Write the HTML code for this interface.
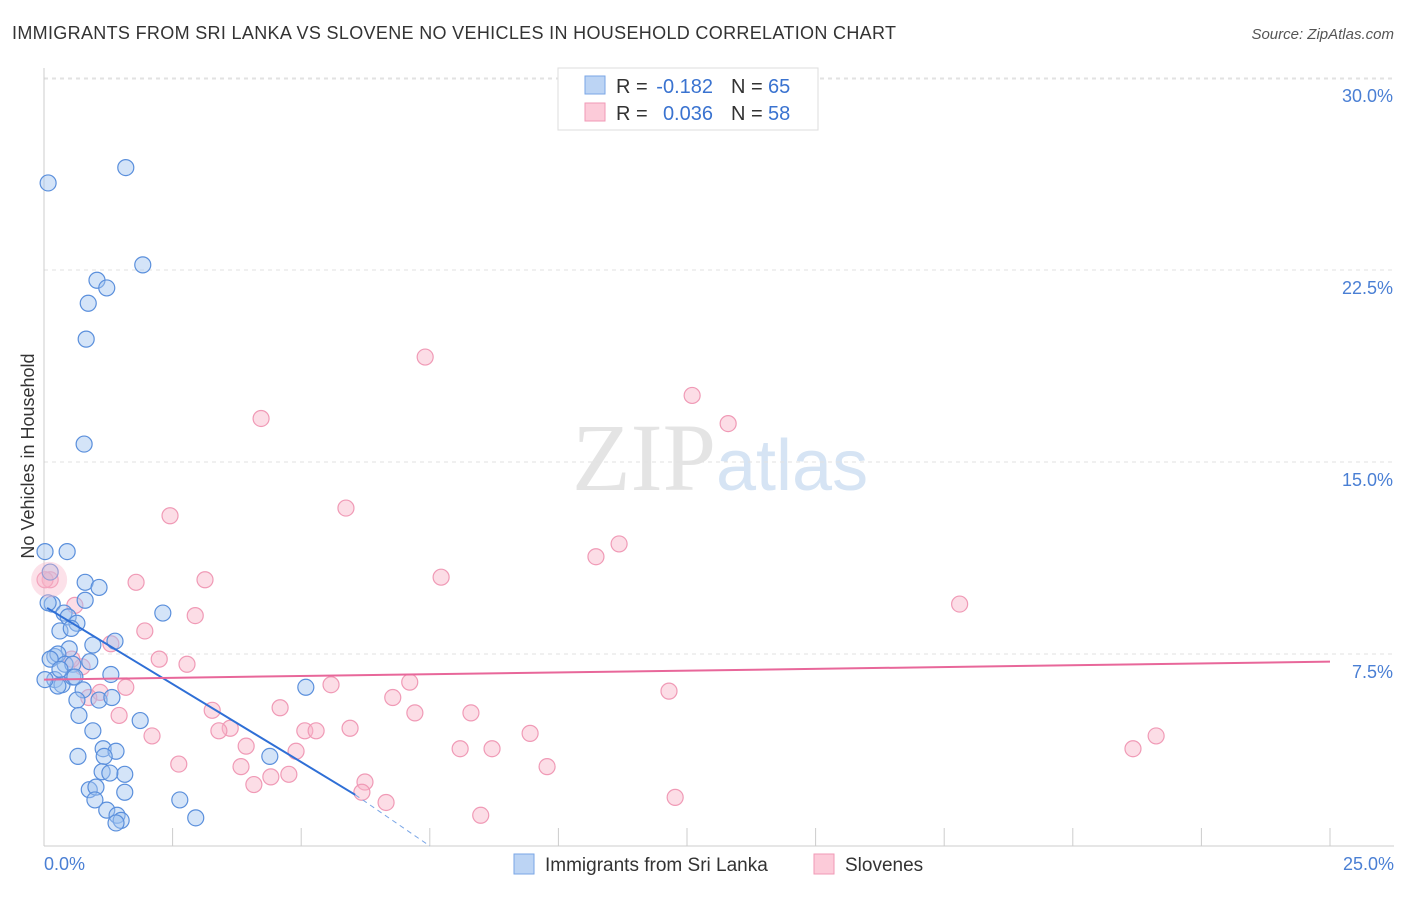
<!DOCTYPE html>
<html><head><meta charset="utf-8"><style>
body{margin:0;background:#fff;font-family:"Liberation Sans",sans-serif;}
</style></head><body>
<svg width="1406" height="892" xmlns="http://www.w3.org/2000/svg">
<text x="12" y="39" font-size="18" fill="#333" textLength="884">IMMIGRANTS FROM SRI LANKA VS SLOVENE NO VEHICLES IN HOUSEHOLD CORRELATION CHART</text>
<text x="1394" y="39" font-size="15" fill="#555" font-style="italic" text-anchor="end">Source: ZipAtlas.com</text>
<text x="716" y="490" font-size="96" fill="#e4e4e4" font-family="Liberation Serif,serif" text-anchor="end">ZIP</text>
<text x="716" y="490" font-size="72" fill="#d6e4f4">atlas</text>
<g id="grid"></g>
<line x1="44" y1="68" x2="44" y2="846" stroke="#ccc"/>
<line x1="44" y1="846" x2="1394" y2="846" stroke="#ccc"/>
<text x="0" y="0" transform="translate(34,456) rotate(-90)" font-size="18" fill="#333" text-anchor="middle">No Vehicles in Household</text>
<text x="44" y="870" font-size="18" fill="#4a7fd4">0.0%</text>
<text x="1394" y="870" font-size="18" fill="#4a7fd4" text-anchor="end">25.0%</text>
<g id="marks"></g>
<g>
<rect x="558" y="68" width="260" height="62" fill="#fff" stroke="#ddd"/>
<rect x="585" y="76" width="20" height="18" fill="#bcd4f4" stroke="#7aa6e6"/>
<rect x="585" y="103" width="20" height="18" fill="#fccbd9" stroke="#f09ab6"/>
<text x="616" y="93" font-size="20" fill="#333">R =</text>
<text x="713" y="93" font-size="20" fill="#3a73d0" text-anchor="end">-0.182</text>
<text x="731" y="93" font-size="20" fill="#333">N =</text>
<text x="768" y="93" font-size="20" fill="#3a73d0">65</text>
<text x="616" y="120" font-size="20" fill="#333">R =</text>
<text x="713" y="120" font-size="20" fill="#3a73d0" text-anchor="end">0.036</text>
<text x="731" y="120" font-size="20" fill="#333">N =</text>
<text x="768" y="120" font-size="20" fill="#3a73d0">58</text>
</g>
<g>
<rect x="514" y="854" width="20" height="20" fill="#bcd4f4" stroke="#7aa6e6"/>
<text x="545" y="871" font-size="19" fill="#333">Immigrants from Sri Lanka</text>
<rect x="814" y="854" width="20" height="20" fill="#fccbd9" stroke="#f09ab6"/>
<text x="845" y="871" font-size="19" fill="#333">Slovenes</text>
</g>
</svg>
<script>
const yTicks=[7.5,15,22.5,30];
const yTickLabels=["7.5%","15.0%","22.5%","30.0%"];
const xTicks=[0,2.5,5,7.5,10,12.5,15,17.5,20,22.5,25];
const blueX=[0.08,1.59,1.92,1.03,1.22,0.86,0.82,0.78,0.45,0.02,0.12,0.8,1.07,0.16,0.8,0.39,0.47,0.64,0.31,0.53,2.31,0.49,0.95,1.38,0.21,0.27,0.41,0.56,0.89,0.12,0.21,0.35,0.27,0.56,0.6,1.3,0.76,1.07,1.32,0.64,0.68,1.87,5.09,0.95,1.15,1.4,0.66,1.17,4.39,1.13,1.57,1.28,0.88,1.01,0.99,1.57,2.64,1.22,1.42,1.5,1.4,2.95,0.02,0.31,0.08];
const blueY=[25.9,26.5,22.7,22.1,21.8,21.2,19.8,15.7,11.5,11.5,10.7,10.3,10.1,9.45,9.6,9.1,8.95,8.7,8.4,8.5,9.1,7.7,7.85,8.0,7.4,7.5,7.1,7.1,7.2,7.3,6.5,6.3,6.25,6.6,6.6,6.7,6.1,5.7,5.8,5.7,5.1,4.9,6.2,4.5,3.8,3.7,3.5,3.5,3.5,2.9,2.8,2.85,2.2,2.3,1.8,2.1,1.8,1.4,1.2,1.0,0.9,1.1,6.5,6.9,9.5];
const pinkX=[7.41,12.6,13.3,4.22,5.87,2.45,11.18,10.73,7.72,1.79,3.13,17.8,0.6,2.94,1.96,1.3,2.24,2.78,7.11,5.58,12.15,1.59,1.09,0.87,6.78,4.59,3.27,1.46,7.21,8.3,3.62,3.4,5.07,5.95,5.29,2.1,9.45,21.62,21.17,3.93,8.09,8.71,4.9,2.62,3.83,9.78,4.76,4.41,6.24,4.08,6.18,6.65,12.27,8.49,0.12,0.74,0.54,0.02];
const pinkY=[19.1,17.6,16.5,16.7,13.2,12.9,11.8,11.3,10.5,10.3,10.4,9.45,9.4,9.0,8.4,7.9,7.3,7.1,6.4,6.3,6.05,6.2,6.0,5.8,5.8,5.4,5.3,5.1,5.2,5.2,4.6,4.5,4.5,4.6,4.5,4.3,4.4,4.3,3.8,3.9,3.8,3.8,3.7,3.2,3.1,3.1,2.8,2.7,2.5,2.4,2.1,1.7,1.9,1.2,10.4,7.0,7.3,10.4];
const blueLine=[[0.06,9.3],[6.05,2.0]], blueDash=[[6.05,2.0],[7.5,0.0]];
const pinkLine=[[0,6.5],[25,7.2]];
const NS="http://www.w3.org/2000/svg";
const sx=v=>44+v/25*1286, sy=v=>846-v*25.6;
const gridG=document.getElementById('grid'), marksG=document.getElementById('marks');
function mk(tag,attrs,parent){const e=document.createElementNS(NS,tag);for(const k in attrs)e.setAttribute(k,attrs[k]);parent.appendChild(e);return e;}
yTicks.forEach((t,i)=>{
 const l=mk('line',{x1:44,x2:1394,y1:sy(t),y2:sy(t),stroke:'#e2e2e2','stroke-dasharray':'4,4'},gridG);
 
 
 const tx=mk('text',{x:1393,y:sy(t)+24,'font-size':18,fill:'#4a7fd4','text-anchor':'end'},gridG);
 tx.textContent=yTickLabels[i];
 
 
});
const topLine=mk('line',{x1:44,x2:1394,y1:79,y2:79,stroke:'#e2e2e2','stroke-dasharray':'4,4'},gridG);


xTicks.forEach(t=>{
 const l=mk('line',{x1:sx(t),x2:sx(t),y1:828,y2:846,stroke:'#ccc'},gridG);
 
 
});
function dots(xs,ys,fill,stroke,name){
 xs.forEach((x,i)=>{
  const c=mk('circle',{cx:sx(x),cy:sy(ys[i]),r:8,fill:fill,stroke:stroke,'stroke-width':1.2},marksG);
  
  
 });
}
dots(pinkX,pinkY,'rgba(248,180,200,0.45)','#f09ab6','slovenes-point');
dots(blueX,blueY,'rgba(160,195,240,0.45)','#5a8fdc','sri-lanka-point');
const big=mk('circle',{cx:sx(0.1),cy:sy(10.4),r:18,fill:'rgba(248,180,200,0.4)',stroke:'none'},marksG);


const bl=mk('line',{x1:sx(blueLine[0][0]),y1:sy(blueLine[0][1]),x2:sx(blueLine[1][0]),y2:sy(blueLine[1][1]),stroke:'#2f6fd6','stroke-width':2},marksG);


const bd=mk('line',{x1:sx(blueDash[0][0]),y1:sy(blueDash[0][1]),x2:sx(blueDash[1][0]),y2:sy(blueDash[1][1]),stroke:'#7aa6e6','stroke-width':1,'stroke-dasharray':'5,4'},marksG);


const pl=mk('line',{x1:sx(pinkLine[0][0]),y1:sy(pinkLine[0][1]),x2:sx(pinkLine[1][0]),y2:sy(pinkLine[1][1]),stroke:'#e8679a','stroke-width':2},marksG);


</script>
</body></html>
